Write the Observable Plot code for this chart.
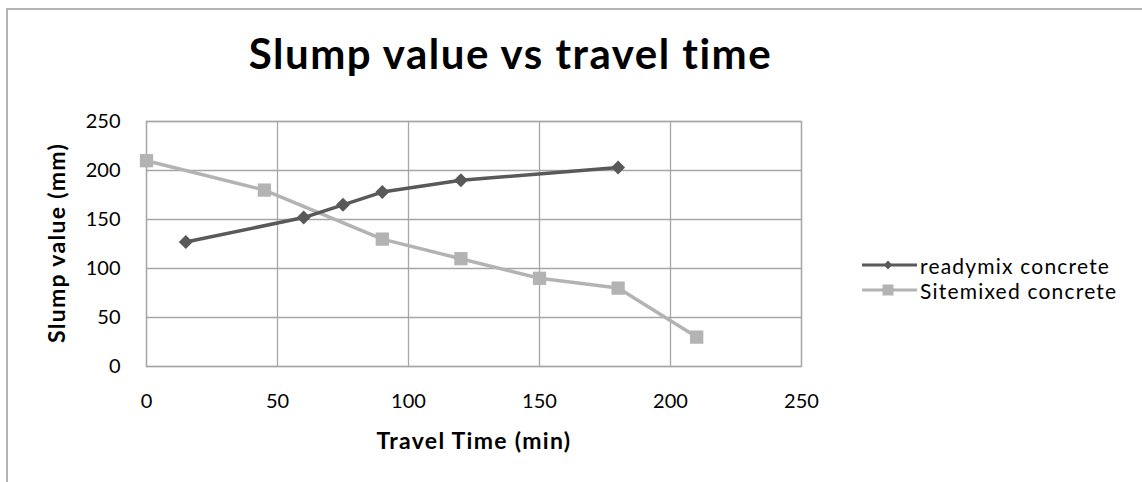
<!DOCTYPE html>
<html>
<head>
<meta charset="utf-8">
<script src="https://cdn.jsdelivr.net/npm/d3@7"></script>
<script src="https://cdn.jsdelivr.net/npm/@observablehq/plot@0.6"></script>
<style>
  html, body { margin: 0; padding: 0; background: #fff; }
  #wrap { position: relative; width: 1142px; height: 482px; overflow: hidden; font-family: Lato, "Open Sans", sans-serif; }
  #border { position: absolute; left: 6px; top: 8px; width: 1200px; height: 600px; border: 2px solid #b4b4b4; box-sizing: border-box; }
  #title { position: absolute; left: 0; width: 1021px; top: 28px; text-align: center; font-weight: bold; font-size: 42px; letter-spacing: 1.5px; color: #000; line-height: normal; }
  #chart { position: absolute; left: 0; top: 0; }
  #ylabel { position: absolute; left: 56px; top: 243px; transform: translate(-50%, -50%) rotate(-90deg); font-weight: bold; font-size: 23px; letter-spacing: 1.3px; white-space: nowrap; line-height: 24px; }
  #xlabel { position: absolute; left: 474px; top: 440px; transform: translate(-50%, -50%); font-weight: bold; font-size: 23px; letter-spacing: 1.3px; white-space: nowrap; line-height: 24px; }
  #legend { position: absolute; left: 862px; top: 252.5px; font-size: 21px; letter-spacing: 1.2px; color: #000; }
  .item { display: flex; align-items: center; height: 25px; }
  .item span { line-height: 25px; }
  .item svg { margin-right: 3px; }
</style>
</head>
<body>
<div id="wrap">
  <div id="border"></div>
  <div id="title">Slump value vs travel time</div>
  <div id="chart"></div>
  <div id="ylabel">Slump value (mm)</div>
  <div id="xlabel">Travel Time (min)</div>
  <div id="legend"></div>
</div>
<script>
const seriesNames = ["readymix concrete", "Sitemixed concrete"];
const readymixTime = [15, 60, 75, 90, 120, 180];
const readymixSlump = [127, 152, 165, 178, 190, 203];
const sitemixTime = [0, 45, 90, 120, 150, 180, 210];
const sitemixSlump = [210, 180, 130, 110, 90, 80, 30];
const xTicks = [0, 50, 100, 150, 200, 250];
const yTicks = [0, 50, 100, 150, 200, 250];
const colors = ["#595959", "#b3b3b3"];

const readymix = readymixTime.map((t, i) => ({t, v: readymixSlump[i]}));
const sitemix = sitemixTime.map((t, i) => ({t, v: sitemixSlump[i]}));

const chart = Plot.plot({
  width: 1142,
  height: 482,
  marginLeft: 146,
  marginRight: 341,
  marginTop: 121,
  marginBottom: 116,
  style: {fontFamily: "Lato, 'Open Sans', sans-serif", fontSize: "20px", color: "#000", background: "transparent"},
  x: {domain: [0, 250], ticks: xTicks, label: null},
  y: {domain: [0, 250], ticks: yTicks, label: null},
  marks: [
    Plot.gridX(xTicks, {stroke: "#a6a6a6", strokeOpacity: 1, strokeWidth: 1.3}),
    Plot.gridY(yTicks, {stroke: "#a6a6a6", strokeOpacity: 1, strokeWidth: 1.3}),
    Plot.frame({stroke: "#a6a6a6", strokeWidth: 1.3}),
    Plot.axisX(xTicks, {tickSize: 0, tickPadding: 27, fontSize: 20}),
    Plot.axisY(yTicks, {tickSize: 0, tickPadding: 26, fontSize: 20}),
    Plot.line(sitemix, {x: "t", y: "v", stroke: colors[1], strokeWidth: 3.5}),
    Plot.dot(sitemix, {x: "t", y: "v", symbol: "square", r: 7.5, fill: colors[1], stroke: "none"}),
    Plot.line(readymix, {x: "t", y: "v", stroke: colors[0], strokeWidth: 3.5}),
    Plot.dot(readymix, {x: "t", y: "v", symbol: "diamond2", r: 6.3, fill: colors[0], stroke: "none"})
  ]
});
document.getElementById("chart").appendChild(chart);

const legend = d3.select("#legend");
seriesNames.forEach((name, i) => {
  const item = legend.append("div").attr("class", "item");
  const svg = item.append("svg").attr("width", 55).attr("height", 20);
  svg.append("line").attr("x1", 0).attr("x2", 55).attr("y1", 10).attr("y2", 10)
    .attr("stroke", colors[i]).attr("stroke-width", 3.2);
  if (i === 0) {
    svg.append("path").attr("d", "M26,5.5L30.3,10L26,14.5L21.7,10Z").attr("fill", colors[i]);
  } else {
    svg.append("rect").attr("x", 20.5).attr("y", 4.5).attr("width", 11).attr("height", 11).attr("fill", colors[i]);
  }
  item.append("span").text(name);
});
</script>
</body>
</html>
